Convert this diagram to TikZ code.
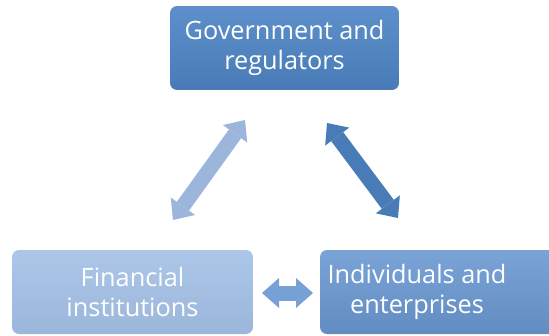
\documentclass[tikz,border=0pt]{standalone}
\usepackage{fontspec}
\setmainfont{Open Sans}
\usetikzlibrary{arrows.meta}

\definecolor{govblue}{HTML}{4F86C6}
\definecolor{finblue}{HTML}{A3C0E6}
\definecolor{indblue}{HTML}{6B99D2}

\tikzset{
    box/.style={rounded corners=10pt, minimum height=4.2cm, text=white,
        align=center, font=\fontsize{36}{42}\selectfont},
    label/.style={text=white, align=center, font=\fontsize{36}{42}\selectfont},
    link/.style={line width=0.75cm,
        {Triangle[width=1.5cm,length=0.85cm,line width=0pt]}-{Triangle[width=1.5cm,length=0.85cm,line width=0pt]}}
}

\begin{document}
\begin{tikzpicture}[x=0.05cm, y=-0.05cm]
        \useasboundingbox (0, 0) rectangle (549, 335);

        % the three parties
        \node[box, minimum width=11.45cm, top color=govblue!92!white, bottom color=govblue!92!black]
            (gov) at (284.5, 48) {Government and\\regulators};
        \node[box, minimum width=12.05cm, top color=finblue!90!white, bottom color=finblue!95!black]
            (fin) at (132.5, 292) {Financial\\institutions};
        \node[box, minimum width=12cm, top color=indblue!90!white, bottom color=indblue!92!black]
            (ind) at (440, 292) {};
        \node[label] (indlbl) at (417, 292) {Individuals and\\enterprises};

        % ends of the links
        \coordinate (fin-up) at (173, 220);
        \coordinate (gov-left) at (245, 120);
        \coordinate (gov-right) at (327, 123);
        \coordinate (ind-up) at (398, 218);
        \coordinate (fin-right) at (262, 293);
        \coordinate (ind-left) at (313, 293);

        \draw[link, color=finblue!95!black] (fin-up) -- (gov-left);
        \draw[link, color=govblue!92!black] (gov-right) -- (ind-up);
        \draw[link, color=indblue!92!white] (fin-right) -- (ind-left);
    \end{tikzpicture}
\end{document}
